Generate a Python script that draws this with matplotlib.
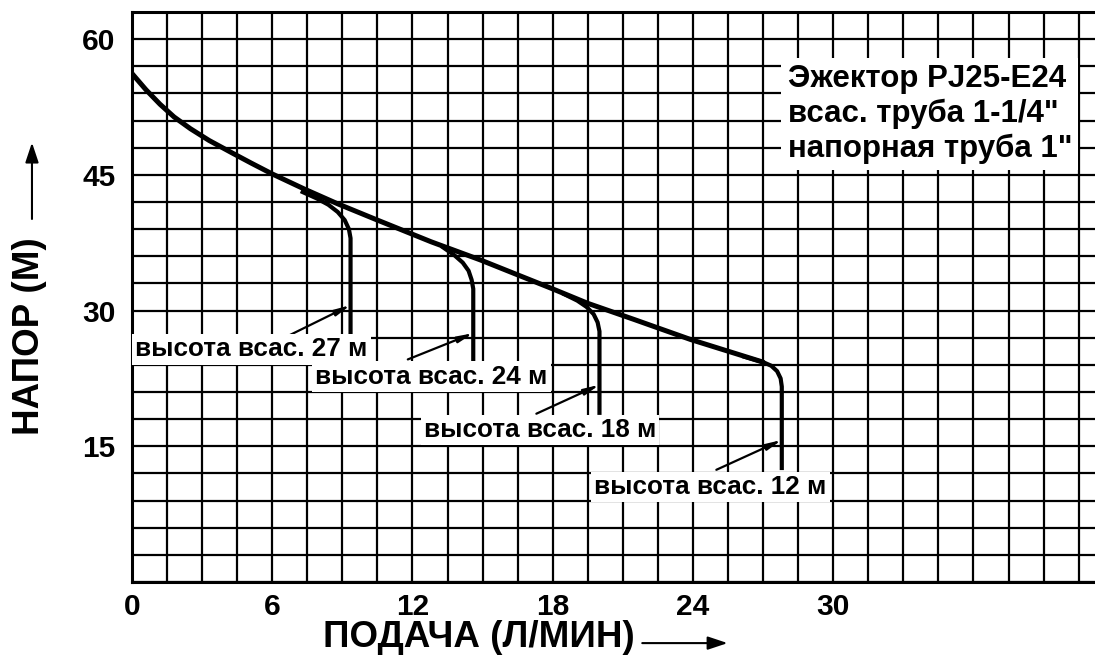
""" Ejector pump head / flow chart. """

import numpy as np
import matplotlib
matplotlib.use("Agg")
import matplotlib.pyplot as plt
from matplotlib.patches import FancyArrowPatch

plt.rcParams["font.family"] = ["Liberation Sans", "DejaVu Sans"]
plt.rcParams["font.weight"] = "bold"

# main head curve (flow l/min, head m)
main_q = [0, 0.6, 1.2, 1.8, 2.5, 3.3, 4.3, 5.1, 6.0, 7.4, 8.8, 10.5, 12.8, 14.9,
          17.9, 19.5, 21.5, 23.9, 27.0]
main_h = [56.2, 54.4, 52.8, 51.4, 50.1, 48.8, 47.4, 46.3, 45.1, 43.4, 41.8, 40.0, 37.6, 35.6,
          32.5, 30.8, 29.0, 26.8, 24.3]

# branches for each suction height
branch_labels = ["высота всас. 27 м", "высота всас. 24 м", "высота всас. 18 м", "высота всас. 12 м"]
branch_q = [
    [7.3, 7.9, 8.4, 8.8, 9.1, 9.28, 9.35, 9.35],
    [13.3, 13.8, 14.15, 14.4, 14.53, 14.6, 14.6],
    [18.5, 19.05, 19.45, 19.75, 19.92, 20.0, 20.0],
    [26.2, 27.0, 27.35, 27.6, 27.75, 27.8, 27.8],
]
branch_h = [
    [43.1, 42.4, 41.7, 40.9, 40.0, 39.0, 38.0, 27.3],
    [37.0, 36.1, 35.3, 34.4, 33.4, 32.4, 24.3],
    [31.8, 31.1, 30.4, 29.6, 28.7, 27.7, 18.7],
    [24.9, 24.3, 23.9, 23.3, 22.5, 21.6, 12.6],
]

# label placement and pointer lines
label_xy = [(5.1, 25.7), (12.8, 22.7), (17.45, 16.8), (24.75, 10.5)]
pointer_from = [(6.6, 27.1), (11.8, 24.6), (17.3, 18.6), (25.0, 12.4)]
pointer_to = [(9.35, 30.6), (14.6, 27.5), (20.0, 21.8), (27.8, 15.7)]

x_ticks = [0, 6, 12, 18, 24, 30]
y_ticks = [15, 30, 45, 60]

title_lines = ["Эжектор PJ25-E24", "всас. труба 1-1/4\"", "напорная труба 1\""]


def main(output_file):
    fig = plt.figure(figsize=(10.95, 6.72), dpi=100)
    ax = fig.add_axes([132 / 1095, 90 / 672, 1 - 132 / 1095, 570 / 672])

    ax.set_xlim(0, 41.2)
    ax.set_ylim(0, 63)

    ax.set_xticks(x_ticks)
    ax.set_yticks(y_ticks)
    ax.set_xticks(np.arange(0, 42, 1.5), minor=True)
    ax.set_yticks(np.arange(0, 63, 3), minor=True)
    ax.grid(True, which="both", color="black", linewidth=1.6)
    ax.set_axisbelow(True)
    ax.tick_params(which="both", length=0)
    ax.tick_params(axis="x", pad=8, labelsize=21.5)
    ax.tick_params(axis="y", pad=12, labelsize=21.5)

    for side in ["left", "bottom", "top"]:
        ax.spines[side].set_linewidth(2.2)
    ax.spines["right"].set_visible(False)

    ax.plot(main_q, main_h, color="black", linewidth=3.6, solid_capstyle="round",
            solid_joinstyle="round", zorder=3)
    for q, h in zip(branch_q, branch_h):
        ax.plot(q, h, color="black", linewidth=3.0, solid_joinstyle="round", zorder=3)

    for i, label in enumerate(branch_labels):
        ax.annotate("", xy=pointer_to[i], xytext=pointer_from[i],
                    arrowprops=dict(arrowstyle="-|>,head_length=0.9,head_width=0.18",
                                    color="black", lw=1.6, shrinkA=0, shrinkB=0),
                    zorder=4)
        ax.text(label_xy[i][0], label_xy[i][1], label, fontsize=18.8, ha="center", va="center",
                bbox=dict(boxstyle="square,pad=0.12", facecolor="white", edgecolor="none"),
                zorder=5)

    ax.text(28.05, 51.7, "\n".join(title_lines), fontsize=22.5, ha="left", va="center",
            linespacing=1.2,
            bbox=dict(boxstyle="square,pad=0.2", facecolor="white", edgecolor="none"),
            zorder=5)

    # axis labels with arrows
    fig.text(0.437, 25 / 672, "ПОДАЧА (Л/МИН)", fontsize=26.5, ha="center", va="baseline")
    fig.patches.append(FancyArrowPatch(
        (0.584, 0.043), (0.667, 0.043), transform=fig.transFigure,
        arrowstyle="-|>,head_length=12,head_width=4", color="black", lw=1.5))

    fig.text(0.0265, 0.5, "НАПОР (М)", fontsize=26.5, rotation=90, ha="center", va="center")
    fig.patches.append(FancyArrowPatch(
        (0.0292, 0.670), (0.0292, 0.792), transform=fig.transFigure,
        arrowstyle="-|>,head_length=12,head_width=4", color="black", lw=1.5))

    plt.savefig(output_file, dpi=100)


if __name__ == "__main__":
    main("out.png")
